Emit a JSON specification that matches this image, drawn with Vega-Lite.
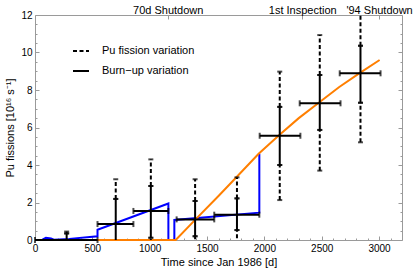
{
  "$schema": "https://vega.github.io/schema/vega-lite/v6.json",
  "width": 367,
  "height": 225,
  "autosize": {"type": "none"},
  "padding": {"left": 35, "top": 15, "right": 13, "bottom": 35},
  "background": "white",
  "datasets": {
    "orange": [
      {"t": 0, "v": 0}, {"t": 1227, "v": 0}, {"t": 1400, "v": 1.1}, {"t": 1600, "v": 2.35},
      {"t": 1760, "v": 3.37}, {"t": 1950, "v": 4.6}, {"t": 2130, "v": 5.6}, {"t": 2300, "v": 6.5},
      {"t": 2480, "v": 7.35}, {"t": 2650, "v": 8.15}, {"t": 2830, "v": 8.9}, {"t": 3005, "v": 9.6}
    ],
    "blue": [
      {"i": 0, "t": 0, "v": 0}, {"i": 1, "t": 65, "v": 0.02}, {"i": 2, "t": 95, "v": 0.12},
      {"i": 3, "t": 140, "v": 0.08}, {"i": 4, "t": 165, "v": 0.02}, {"i": 5, "t": 300, "v": 0.06},
      {"i": 6, "t": 545, "v": 0.2}, {"i": 7, "t": 545, "v": 0.55}, {"i": 8, "t": 1163, "v": 1.95},
      {"i": 9, "t": 1163, "v": 0}, {"i": 10, "t": 1215, "v": 0}, {"i": 11, "t": 1215, "v": 1.07},
      {"i": 12, "t": 1956, "v": 1.46}, {"i": 13, "t": 1956, "v": 4.6}
    ],
    "hbars": [
      {"y": 0, "lo": 0, "hi": 545},
      {"y": 0.85, "lo": 545, "hi": 858},
      {"y": 1.55, "lo": 858, "hi": 1163},
      {"y": 1.1, "lo": 1235, "hi": 1563},
      {"y": 1.35, "lo": 1563, "hi": 1956},
      {"y": 5.56, "lo": 1959, "hi": 2314},
      {"y": 7.29, "lo": 2308, "hi": 2664},
      {"y": 8.89, "lo": 2657, "hi": 3013}
    ],
    "vbars": [
      {"x": 276, "lo": 0, "hi": 0.35, "kind": "Burn−up variation"},
      {"x": 276, "lo": 0.35, "hi": 0.45, "kind": "Pu fission variation"},
      {"x": 704, "lo": -0.4, "hi": 2.19, "kind": "Burn−up variation"},
      {"x": 704, "lo": 2.19, "hi": 3.24, "kind": "Pu fission variation"},
      {"x": 1010, "lo": 0.12, "hi": 2.88, "kind": "Burn−up variation"},
      {"x": 1010, "lo": 2.88, "hi": 4.3, "kind": "Pu fission variation"},
      {"x": 1010, "lo": -1.2, "hi": 0.12, "kind": "Pu fission variation"},
      {"x": 1396, "lo": 0.2, "hi": 2.08, "kind": "Burn−up variation"},
      {"x": 1396, "lo": 2.08, "hi": 3.24, "kind": "Pu fission variation"},
      {"x": 1396, "lo": -1, "hi": 0.2, "kind": "Pu fission variation"},
      {"x": 1761, "lo": 0.53, "hi": 2.22, "kind": "Burn−up variation"},
      {"x": 1761, "lo": 2.22, "hi": 3.34, "kind": "Pu fission variation"},
      {"x": 1761, "lo": -0.6, "hi": 0.53, "kind": "Pu fission variation"},
      {"x": 2134, "lo": 4.0, "hi": 7.1, "kind": "Burn−up variation"},
      {"x": 2134, "lo": 7.1, "hi": 8.98, "kind": "Pu fission variation"},
      {"x": 2134, "lo": 2.13, "hi": 4.0, "kind": "Pu fission variation"},
      {"x": 2483, "lo": 5.87, "hi": 8.8, "kind": "Burn−up variation"},
      {"x": 2483, "lo": 8.8, "hi": 10.93, "kind": "Pu fission variation"},
      {"x": 2483, "lo": 3.7, "hi": 5.87, "kind": "Pu fission variation"},
      {"x": 2838, "lo": 7.32, "hi": 10.36, "kind": "Burn−up variation"},
      {"x": 2838, "lo": 10.36, "hi": 13.5, "kind": "Pu fission variation"},
      {"x": 2838, "lo": 5.21, "hi": 7.32, "kind": "Pu fission variation"}
    ]
  },
  "resolve": {"axis": {"x": "independent", "y": "independent"}},
  "layer": [
    {
      "data": {"name": "blue"},
      "mark": {"type": "line", "color": "#0000ff", "strokeWidth": 2},
      "encoding": {
        "x": {"field": "t", "type": "quantitative", "scale": {"domain": [0, 3200], "nice": false, "zero": false},
          "axis": {"orient": "bottom", "values": [0, 500, 1000, 1500, 2000, 2500, 3000], "tickSize": -4, "labels": false, "domain": false, "title": null}},
        "y": {"field": "v", "type": "quantitative", "scale": {"domain": [0, 12], "nice": false, "zero": false},
          "axis": {"orient": "left", "values": [0, 2, 4, 6, 8, 10, 12], "tickSize": -4, "labels": false, "domain": false, "title": null}},
        "order": {"field": "i", "type": "quantitative"}
      }
    },
    {
      "data": {"name": "orange"},
      "mark": {"type": "line", "color": "#ff7f00", "strokeWidth": 2},
      "encoding": {
        "x": {"field": "t", "type": "quantitative",
          "axis": {"orient": "bottom", "values": [0, 500, 1000, 1500, 2000, 2500, 3000], "format": "d", "ticks": false, "domain": false, "labelPadding": 3, "labelFlush": false, "title": "Time since Jan 1986 [d]", "titlePadding": 3}},
        "y": {"field": "v", "type": "quantitative",
          "axis": {"orient": "left", "values": [0, 2, 4, 6, 8, 10, 12], "format": "d", "ticks": false, "domain": false, "labelPadding": 3, "labelFlush": false, "title": "Pu fissions [10¹⁶ s⁻¹]", "titlePadding": 5}}
      }
    },
    {
      "data": {"name": "hbars"},
      "mark": {"type": "rule", "color": "black", "strokeWidth": 2},
      "encoding": {
        "x": {"field": "lo", "type": "quantitative",
          "axis": {"orient": "bottom", "values": [100, 200, 300, 400, 600, 700, 800, 900, 1100, 1200, 1300, 1400, 1600, 1700, 1800, 1900, 2100, 2200, 2300, 2400, 2600, 2700, 2800, 2900, 3100], "tickSize": -2, "labels": false, "domain": false, "title": null}},
        "x2": {"field": "hi"},
        "y": {"field": "y", "type": "quantitative",
          "axis": {"orient": "left", "values": [0.5, 1, 1.5, 2.5, 3, 3.5, 4.5, 5, 5.5, 6.5, 7, 7.5, 8.5, 9, 9.5, 10.5, 11, 11.5], "tickSize": -2, "labels": false, "domain": false, "title": null}}
      }
    },
    {
      "data": {"name": "hbars"},
      "transform": [{"fold": ["lo", "hi"], "as": ["end", "pos"]}],
      "mark": {"type": "tick", "orient": "vertical", "color": "black", "size": 6, "thickness": 2},
      "encoding": {
        "x": {"field": "pos", "type": "quantitative", "axis": null},
        "y": {"field": "y", "type": "quantitative",
          "axis": {"orient": "right", "values": [0.5, 1, 1.5, 2.5, 3, 3.5, 4.5, 5, 5.5, 6.5, 7, 7.5, 8.5, 9, 9.5, 10.5, 11, 11.5], "tickSize": -2, "labels": false, "domain": false, "title": null}}
      }
    },
    {
      "data": {"name": "vbars"},
      "mark": {"type": "rule", "color": "black", "strokeWidth": 2, "clip": true},
      "encoding": {
        "x": {"field": "x", "type": "quantitative",
          "axis": {"orient": "top", "values": [1157, 2330, 3000], "tickSize": -4, "domain": false, "labelPadding": 4, "labelFontSize": 11, "labelFlush": false, "labelOverlap": false, "title": null,
            "labelExpr": "datum.value == 1157 ? '70d Shutdown' : datum.value == 2330 ? '1st Inspection' : \"'94 Shutdown\""}},
        "y": {"field": "lo", "type": "quantitative",
          "axis": {"orient": "right", "values": [0, 2, 4, 6, 8, 10, 12], "tickSize": -4, "labels": false, "domain": false, "title": null}},
        "y2": {"field": "hi"},
        "strokeDash": {"field": "kind", "type": "nominal",
          "scale": {"domain": ["Pu fission variation", "Burn−up variation"], "range": [[4, 2.5], [1, 0]]},
          "legend": {"orient": "none", "legendX": 37, "legendY": 27, "title": null, "symbolType": "stroke", "symbolStrokeWidth": 2, "symbolStrokeColor": "black", "symbolSize": 256, "labelFontSize": 11, "labelOffset": 12, "rowPadding": 6, "padding": 0}}
      }
    },
    {
      "data": {"name": "vbars"},
      "transform": [{"fold": ["lo", "hi"], "as": ["end", "pos"]}],
      "mark": {"type": "tick", "orient": "horizontal", "color": "black", "size": 5, "thickness": 2, "clip": true},
      "encoding": {
        "x": {"field": "x", "type": "quantitative", "axis": null},
        "y": {"field": "pos", "type": "quantitative", "axis": null}
      }
    }
  ],
  "config": {
    "font": "Liberation Sans",
    "view": {"stroke": "#9a9a9a", "strokeWidth": 1},
    "axis": {"labelFontSize": 10, "labelColor": "black", "titleFontSize": 11, "titleFontWeight": "normal", "titleColor": "black", "tickColor": "#9a9a9a", "grid": false},
    "legend": {"labelColor": "black", "labelFont": "Liberation Sans"}
  }
}
